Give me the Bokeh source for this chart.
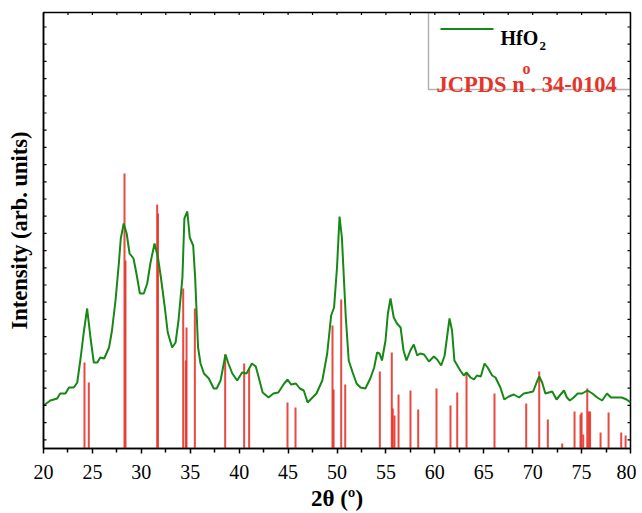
import math
from bokeh.plotting import figure
from bokeh.models import FixedTicker, Range1d, BoxAnnotation, Label
from bokeh.embed import file_html
from bokeh.resources import INLINE

# ---- data (2theta in degrees, intensity in arb. units) ----
two_theta = [20.0, 20.7, 21.4, 21.7, 22.25, 22.6, 23.1, 23.45, 23.8, 24.1, 24.46, 24.8,
             25.14, 25.5, 25.8, 26.2, 26.7, 27.0, 27.36, 27.7, 27.9, 28.2, 28.5, 28.8,
             29.2, 29.5, 29.85, 30.25, 30.6, 30.94, 31.35, 31.7, 32.0, 32.4, 32.7, 33.15,
             33.5, 33.8, 34.2, 34.4, 34.7, 34.95, 35.3, 35.5, 35.8, 36.05, 36.4, 36.9,
             37.4, 37.7, 38.1, 38.6, 38.9, 39.3, 39.8, 40.3, 40.75, 41.3, 41.7, 42.0,
             42.4, 43.0, 43.5, 44.0, 44.6, 44.95, 45.3, 45.8, 46.2, 46.6, 47.0, 47.4,
             47.9, 48.5, 49.0, 49.4, 49.7, 50.0, 50.26, 50.5, 50.9, 51.2, 51.6, 52.0,
             52.4, 52.9, 53.4, 53.8, 54.1, 54.35, 54.6, 54.96, 55.2, 55.47, 55.8, 56.13,
             56.5, 56.8, 57.1, 57.5, 57.85, 58.2, 58.5, 58.9, 59.4, 59.9, 60.24, 60.65,
             61.0, 61.27, 61.5, 61.76, 62.0, 62.3, 62.6, 62.96, 63.24, 63.65, 64.0, 64.3,
             64.7, 65.08, 65.4, 65.86, 66.2, 66.7, 67.1, 67.56, 68.07, 68.6, 69.1, 69.6,
             70.05, 70.4, 70.67, 70.97, 71.3, 71.65, 72.0, 72.44, 72.85, 73.2, 73.5, 73.8,
             74.2, 74.6, 75.06, 75.6, 76.1, 76.6, 77.1, 77.6, 78.0, 78.6, 79.1, 79.6, 80.0]
intensity = [43, 48, 50, 55, 55, 61, 61, 66, 91, 115, 140, 111,
             86, 86, 91, 90, 101, 118, 148, 185, 210, 225, 215, 195,
             190, 175, 155, 155, 165, 186, 205, 191, 171, 141, 116, 101,
             106, 128, 171, 230, 237, 211, 203, 171, 101, 85, 75, 70,
             60, 60, 68, 94, 85, 75, 68, 76, 75, 85, 82, 71,
             56, 51, 55, 56, 65, 69, 64, 65, 60, 58, 46, 50,
             55, 68, 95, 133, 141, 181, 232, 211, 131, 88, 76, 65,
             61, 60, 70, 81, 96, 95, 88, 108, 135, 150, 131, 125,
             121, 98, 88, 98, 104, 93, 95, 94, 87, 92, 89, 83,
             93, 113, 130, 118, 88, 83, 78, 73, 76, 71, 69, 73,
             72, 85, 81, 73, 71, 61, 49, 52, 54, 51, 55, 56,
             57, 66, 72, 66, 55, 56, 57, 49, 54, 58, 51, 48,
             51, 55, 55, 58, 55, 51, 48, 55, 51, 51, 51, 49, 46]

# JCPDS 34-0104 reference peaks
ref_pos = [24.19, 24.63, 28.28, 28.38, 31.62, 31.70, 34.28, 34.55, 34.62, 35.47,
           38.57, 40.51, 41.02, 44.94, 45.76, 49.54, 49.65, 50.43, 50.84, 54.38,
           55.60, 55.70, 55.88, 56.29, 57.51, 58.30, 60.17, 61.60, 62.29, 63.24,
           66.10, 69.34, 70.67, 71.55, 73.02, 74.28, 74.89, 75.00, 75.17, 75.58,
           75.74, 75.87, 76.94, 77.76, 79.05, 79.50]
ref_int = [86, 66, 275, 188, 244, 235, 160, 88, 121, 140,
           94, 85, 80, 46, 41, 123, 59, 149, 64, 77,
           96, 40, 33, 54, 58, 39, 60, 43, 56, 75,
           55, 45, 77, 29, 5, 37, 34, 36, 14, 60,
           37, 37, 16, 36, 16, 13]
ref_zero = [0] * len(ref_pos)

x_ticks = [20, 25, 30, 35, 40, 45, 50, 55, 60, 65, 70, 75, 80]
x_minor = [22.5, 27.5, 32.5, 37.5, 42.5, 47.5, 52.5, 57.5, 62.5, 67.5, 72.5, 77.5]
y_ticks = [8.7 + 17.2 * k for k in range(26)]

X0, X1, Y0, Y1 = 20, 80, 0, 436

SERIF = "Liberation Serif"
GREEN = "#168816"
RED = "#e5352b"

p = figure(frame_width=587, frame_height=436, output_backend="svg", toolbar_location=None,
           x_range=Range1d(X0, X1), y_range=Range1d(Y0, Y1),
           min_border_left=43, min_border_right=6, min_border_top=12, min_border_bottom=64)
p.xgrid.visible = False
p.ygrid.visible = False
p.outline_line_color = "black"
p.outline_line_width = 1.5
p.background_fill_color = "white"
p.border_fill_color = "white"

p.segment(x0=ref_pos, y0=ref_zero, x1=ref_pos, y1=ref_int, line_color=RED, line_width=2, line_alpha=0.9)
p.line(two_theta, intensity, line_color=GREEN, line_width=2)

# mirrored tick marks on left, right and top frame edges
p.dash(x=[X0] * len(y_ticks), y=y_ticks, size=6, line_color="black", line_width=1.2)
p.dash(x=[X1] * len(y_ticks), y=y_ticks, size=6, line_color="black", line_width=1.2)
top_ticks = sorted(x_ticks + x_minor)
p.dash(x=top_ticks, y=[Y1] * len(top_ticks), size=5, angle=math.pi / 2,
       line_color="black", line_width=1.2)

# bottom axis
xa = p.xaxis[0]
xa.ticker = FixedTicker(ticks=x_ticks, minor_ticks=x_minor)
xa.axis_line_width = 1.5
xa.major_tick_line_width = 1.5
xa.minor_tick_line_width = 1.5
xa.major_tick_in = 0
xa.major_tick_out = 5
xa.minor_tick_in = 0
xa.minor_tick_out = 4
xa.major_label_text_font = SERIF
xa.major_label_text_font_size = "20px"
xa.major_label_text_color = "black"
xa.major_label_standoff = 11
xa.axis_label = "2θ (º)"
xa.axis_label_text_font = SERIF
xa.axis_label_text_font_size = "23px"
xa.axis_label_text_font_style = "bold"
xa.axis_label_text_color = "black"
xa.axis_label_standoff = 4

# left axis (line + title only)
ya = p.yaxis[0]
ya.ticker = FixedTicker(ticks=[], minor_ticks=[])
ya.axis_line_width = 1.5
ya.major_tick_in = 0
ya.major_tick_out = 0
ya.axis_label = "Intensity (arb. units)"
ya.axis_label_text_font = SERIF
ya.axis_label_text_font_size = "22.5px"
ya.axis_label_text_font_style = "bold"
ya.axis_label_text_color = "black"
ya.axis_label_standoff = 12

# legend box (drawn by hand); helpers convert page pixels to data coordinates
def px_x(px):
    return X0 + (px - 43) * (X1 - X0) / 587.0

def px_y(py):
    return Y1 - (py - 12) * (Y1 - Y0) / 436.0

box = BoxAnnotation(left=px_x(428), right=X1, bottom=px_y(89), top=Y1, fill_alpha=0,
                    line_color="black", line_width=1.5)
p.add_layout(box)
p.line([px_x(440), px_x(493)], [px_y(28.5), px_y(28.5)], line_color=GREEN, line_width=2)

def lab(px, py, t, size, color):
    p.add_layout(Label(x=px_x(px), y=px_y(py), text=t, text_font=SERIF, text_font_size=size,
                       text_font_style="bold", text_color=color, text_baseline="alphabetic"))

lab(500, 37, "HfO", "20px", "black")
lab(539, 45, "2", "13px", "black")
lab(436, 84, "JCPDS n", "22.5px", RED)
lab(522, 68, "o", "16px", RED)
lab(530, 84, ". 34-0104", "22.5px", RED)

open("out.html", "w").write(file_html(p, INLINE))
